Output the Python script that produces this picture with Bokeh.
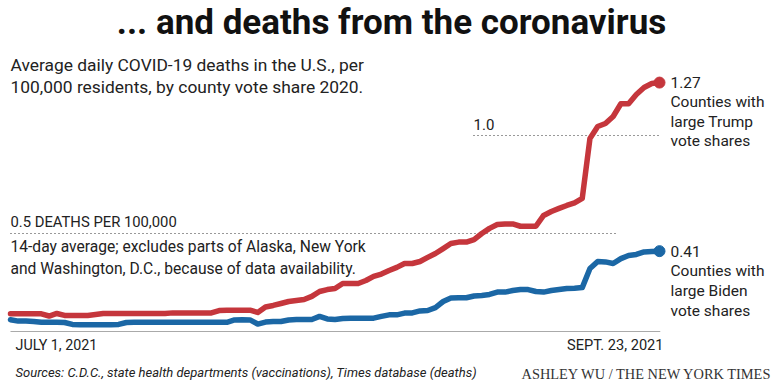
import numpy as np
import pandas as pd
from bokeh.plotting import figure
from bokeh.models import Range1d, Label, ColumnDataSource
from bokeh.embed import file_html
from bokeh.resources import INLINE

# ---------------- data ----------------
dates = pd.date_range("2021-07-01", "2021-09-23", freq="D")
trump = [0.090, 0.090, 0.090, 0.090, 0.090, 0.079, 0.092, 0.082, 0.082, 0.082,
         0.082, 0.087, 0.092, 0.092, 0.092, 0.092, 0.092, 0.092, 0.092, 0.092,
         0.092, 0.095, 0.095, 0.095, 0.095, 0.095, 0.095, 0.107, 0.109, 0.109,
         0.109, 0.109, 0.097, 0.125, 0.133, 0.143, 0.153, 0.158, 0.163, 0.179,
         0.204, 0.214, 0.219, 0.245, 0.245, 0.245, 0.260, 0.281, 0.293, 0.311,
         0.327, 0.347, 0.347, 0.357, 0.378, 0.398, 0.423, 0.449, 0.456, 0.456,
         0.469, 0.500, 0.526, 0.546, 0.549, 0.549, 0.537, 0.537, 0.537, 0.592,
         0.612, 0.628, 0.643, 0.656, 0.679, 0.985, 1.046, 1.061, 1.097, 1.162,
         1.162, 1.209, 1.245, 1.265, 1.270]
biden = [0.060, 0.053, 0.053, 0.051, 0.047, 0.047, 0.047, 0.046, 0.036, 0.034,
         0.034, 0.034, 0.034, 0.034, 0.036, 0.046, 0.047, 0.047, 0.047, 0.047,
         0.047, 0.047, 0.047, 0.047, 0.047, 0.047, 0.047, 0.047, 0.047, 0.059,
         0.060, 0.059, 0.038, 0.048, 0.051, 0.051, 0.059, 0.061, 0.061, 0.061,
         0.077, 0.064, 0.061, 0.066, 0.068, 0.068, 0.068, 0.068, 0.077, 0.085,
         0.085, 0.094, 0.095, 0.105, 0.107, 0.122, 0.153, 0.171, 0.172, 0.172,
         0.181, 0.184, 0.189, 0.201, 0.201, 0.209, 0.214, 0.214, 0.204, 0.201,
         0.209, 0.214, 0.219, 0.221, 0.224, 0.321, 0.357, 0.355, 0.347, 0.372,
         0.388, 0.393, 0.406, 0.408, 0.410]
ref_values = [0.5, 1.0]
ref_labels = ["0.5 DEATHS PER 100,000", "1.0"]
date_labels = ["JULY 1, 2021", "SEPT. 23, 2021"]
end_labels_trump = ["1.27", "Counties with", "large Trump", "vote shares"]
end_labels_biden = ["0.41", "Counties with", "large Biden", "vote shares"]

assert len(trump) == len(dates) == len(biden)
days = np.array((dates - dates[0]).days, dtype=float)

RED = "#c5363c"
BLUE = "#1b67a5"
INK = "#222222"

# ------------- geometry (pixel mapping) -------------
W, H = 780, 385
PX_PER_DAY = 649.0 / days[-1]
PX_PER_UNIT = 196.0
X0_PX = 10.0     # day 0 position inside canvas
Y0_PX = H - 331.0  # value 0 position from canvas bottom

def X(px):  # page x pixel -> data x
    return (px - X0_PX) / PX_PER_DAY

def Y(py):  # page y pixel -> data y
    return ((H - py) - Y0_PX) / PX_PER_UNIT

p = figure(width=W, height=H, output_backend="svg", toolbar_location=None,
           min_border=0, x_axis_location=None, y_axis_location=None)
p.x_range = Range1d(-X0_PX / PX_PER_DAY, (W - X0_PX) / PX_PER_DAY)
p.y_range = Range1d(-Y0_PX / PX_PER_UNIT, (H - Y0_PX) / PX_PER_UNIT)
p.outline_line_color = None
p.grid.visible = False
p.background_fill_color = "white"
p.border_fill_color = "white"

# baseline
p.segment(x0=[days[0]], y0=[0], x1=[days[-1] + 0.1], y1=[0],
          line_color="#aaaaaa", line_width=1)
# reference dotted lines
p.segment(x0=[days[0], X(473)], y0=ref_values, x1=[X(618), days[-1]], y1=ref_values,
          line_color="#333333", line_width=1.2, line_dash="1 3")

src = ColumnDataSource(dict(x=days, t=trump, b=biden))
p.line("x", "b", source=src, line_color=BLUE, line_width=5.5,
       line_join="round", line_cap="round")
p.line("x", "t", source=src, line_color=RED, line_width=5.5,
       line_join="round", line_cap="round")
p.scatter([days[-1]], [biden[-1]], size=11, color=BLUE)
p.scatter([days[-1]], [trump[-1]], size=11, color=RED)

def lab(x, y, text, size, font="Roboto", style="normal", align="left", color=INK):
    p.add_layout(Label(x=x, y=y, text=text, text_font=font,
                       text_font_size=f"{size}px", text_font_style=style,
                       text_align=align, text_baseline="middle",
                       text_color=color))

# title
lab(X(391), Y(22), "... and deaths from the coronavirus", 35, style="bold",
    align="center", color="#111111")
# subtitle
lab(X(10), Y(64), "Average daily COVID-19 deaths in the U.S., per", 17.4)
lab(X(10), Y(86), "100,000 residents, by county vote share 2020.", 17.4)

# reference labels
lab(X(10), Y(221), ref_labels[0], 14.8)
lab(X(473), Y(124), ref_labels[1], 15)

# note
lab(X(10), Y(246), "14-day average; excludes parts of Alaska, New York", 15.6)
lab(X(10), Y(268), "and Washington, D.C., because of data availability.", 15.6)

# end labels
for i, t in enumerate(end_labels_trump):
    lab(days[-1] + 11 / PX_PER_DAY, trump[-1] - i * 19.5 / PX_PER_UNIT, t, 15.5)
for i, t in enumerate(end_labels_biden):
    lab(days[-1] + 11 / PX_PER_DAY, biden[-1] - i * 19.8 / PX_PER_UNIT, t, 15.5)

# date labels
lab(days[0] + 5 / PX_PER_DAY, Y(344), date_labels[0], 14.3)
lab(days[-1] + 4 / PX_PER_DAY, Y(344), date_labels[1], 14.6, align="right")

# footer
lab(X(15), Y(372), "Sources: C.D.C., state health departments (vaccinations), Times database (deaths)",
    13.0, style="italic")
lab(X(772), Y(373), "ASHLEY WU / THE NEW YORK TIMES", 14.4, font="Liberation Serif",
    align="right", color="#333333")

open("out.html", "w").write(file_html(p, INLINE))
